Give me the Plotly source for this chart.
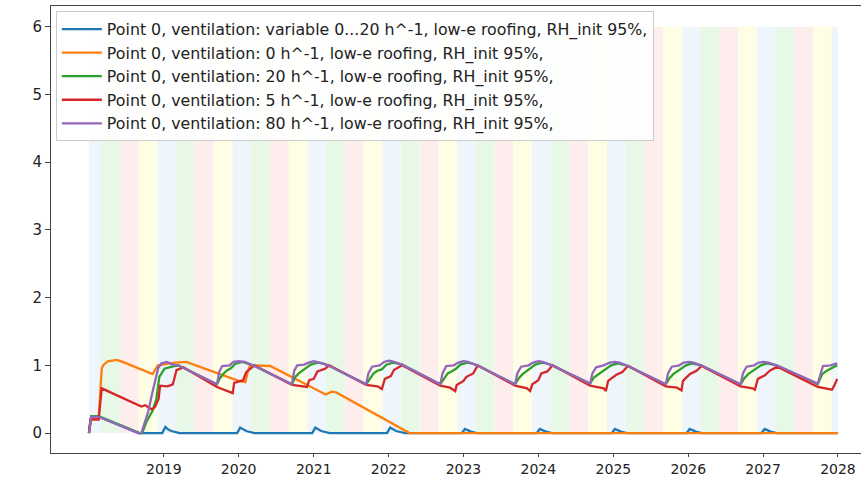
import datetime as dt
import plotly.graph_objects as go

# ---------------- data (decimal year, value) ----------------
names = [
    "Point 0, ventilation: variable 0...20 h^-1, low-e roofing, RH_init 95%,",
    "Point 0, ventilation: 0 h^-1, low-e roofing, RH_init 95%,",
    "Point 0, ventilation: 20 h^-1, low-e roofing, RH_init 95%,",
    "Point 0, ventilation: 5 h^-1, low-e roofing, RH_init 95%,",
    "Point 0, ventilation: 80 h^-1, low-e roofing, RH_init 95%,",
]
colors = ["#1f77b4", "#ff7f0e", "#2ca02c", "#d62728", "#9467bd"]

var_t = [2018.00, 2018.03, 2018.13, 2018.66, 2018.98, 2019.02, 2019.06, 2019.10, 2019.21,
         2019.98, 2020.02, 2020.06, 2020.10, 2020.21, 2020.98, 2021.02, 2021.06, 2021.10, 2021.21,
         2021.98, 2022.02, 2022.06, 2022.10, 2022.22, 2022.98, 2023.02, 2023.06, 2023.10, 2023.18,
         2023.98, 2024.02, 2024.06, 2024.10, 2024.18, 2024.98, 2025.02, 2025.06, 2025.10, 2025.18,
         2025.98, 2026.02, 2026.06, 2026.10, 2026.18, 2026.98, 2027.02, 2027.06, 2027.10, 2027.18,
         2028.00]
var_v = [0.00, 0.24, 0.24, 0.00, 0.00, 0.09, 0.05, 0.03, 0.00,
         0.00, 0.08, 0.05, 0.03, 0.00, 0.00, 0.08, 0.05, 0.03, 0.00,
         0.00, 0.08, 0.05, 0.03, 0.00, 0.00, 0.06, 0.04, 0.02, 0.00,
         0.00, 0.06, 0.04, 0.02, 0.00, 0.00, 0.06, 0.04, 0.02, 0.00,
         0.00, 0.06, 0.04, 0.02, 0.00, 0.00, 0.06, 0.04, 0.02, 0.00,
         0.00]

v0_t = [2018.00, 2018.03, 2018.13, 2018.17, 2018.19, 2018.25, 2018.37, 2018.45, 2018.85,
        2018.92, 2019.15, 2019.30, 2020.00, 2020.09, 2020.12, 2020.15, 2020.42, 2021.10,
        2021.16, 2021.24, 2021.30, 2022.28, 2028.00]
v0_v = [0.00, 0.22, 0.22, 0.95, 1.00, 1.06, 1.08, 1.05, 0.87,
        1.00, 1.04, 1.05, 0.77, 0.75, 0.90, 1.00, 0.99, 0.60,
        0.57, 0.61, 0.60, 0.00, 0.00]

v20_t = [2018.00, 2018.03, 2018.13, 2018.68, 2018.71, 2018.77, 2018.85, 2018.90, 2018.94, 2019.01, 2019.11, 2019.19,
         2019.71, 2019.75, 2019.80, 2019.84, 2019.90, 2019.95, 2020.05, 2020.12, 2020.19,
         2020.71, 2020.75, 2020.80, 2020.85, 2020.91, 2020.96, 2021.05, 2021.12, 2021.19,
         2021.70, 2021.75, 2021.80, 2021.85, 2021.91, 2021.97, 2022.06, 2022.11, 2022.18,
         2022.69, 2022.74, 2022.79, 2022.84, 2022.90, 2022.96, 2023.05, 2023.11, 2023.18,
         2023.69, 2023.74, 2023.79, 2023.84, 2023.90, 2023.96, 2024.05, 2024.11, 2024.18,
         2024.69, 2024.74, 2024.80, 2024.85, 2024.91, 2024.97, 2025.06, 2025.11, 2025.17,
         2025.70, 2025.75, 2025.80, 2025.85, 2025.91, 2025.97, 2026.05, 2026.11, 2026.17,
         2026.70, 2026.75, 2026.80, 2026.85, 2026.91, 2026.97, 2027.05, 2027.11, 2027.18,
         2027.73, 2027.79, 2027.85, 2027.92, 2027.99]
v20_v = [0.00, 0.25, 0.25, 0.00, 0.00, 0.17, 0.33, 0.50, 0.83, 0.95, 0.98, 1.00,
         0.72, 0.81, 0.88, 0.92, 0.96, 1.02, 1.05, 1.03, 1.00,
         0.72, 0.82, 0.88, 0.92, 0.96, 1.01, 1.04, 1.03, 1.00,
         0.72, 0.80, 0.88, 0.92, 0.94, 1.01, 1.04, 1.03, 1.01,
         0.72, 0.81, 0.88, 0.91, 0.95, 1.01, 1.04, 1.03, 1.00,
         0.72, 0.81, 0.87, 0.91, 0.95, 1.01, 1.04, 1.03, 1.00,
         0.73, 0.82, 0.87, 0.91, 0.95, 1.00, 1.03, 1.02, 1.00,
         0.72, 0.81, 0.87, 0.91, 0.95, 1.00, 1.03, 1.02, 1.00,
         0.72, 0.81, 0.87, 0.91, 0.95, 1.00, 1.03, 1.02, 1.00,
         0.72, 0.87, 0.92, 0.96, 1.00]

v5_t = [2018.00, 2018.02, 2018.13, 2018.15, 2018.17, 2018.70, 2018.75, 2018.84, 2018.88, 2018.93, 2018.95,
        2019.05, 2019.12, 2019.17, 2019.26,
        2019.71, 2019.86, 2019.92, 2019.94, 2020.06, 2020.10, 2020.17, 2020.21,
        2020.71, 2020.91, 2020.94, 2021.00, 2021.05, 2021.15, 2021.21,
        2021.70, 2021.85, 2021.91, 2021.95, 2022.03, 2022.07, 2022.18,
        2022.69, 2022.82, 2022.89, 2022.91, 2023.00, 2023.04, 2023.13, 2023.19,
        2023.69, 2023.85, 2023.89, 2023.92, 2024.00, 2024.04, 2024.12, 2024.19,
        2024.69, 2024.87, 2024.90, 2024.93, 2025.04, 2025.12, 2025.16, 2025.20,
        2025.70, 2025.85, 2025.91, 2025.93, 2026.02, 2026.11, 2026.18,
        2026.70, 2026.86, 2026.89, 2026.93, 2027.02, 2027.09, 2027.19,
        2027.73, 2027.92, 2027.95, 2027.99]
v5_v = [0.00, 0.20, 0.20, 0.40, 0.66, 0.39, 0.41, 0.35, 0.38, 0.50, 0.70,
        0.69, 0.72, 0.93, 0.97,
        0.68, 0.61, 0.59, 0.74, 0.78, 0.90, 0.96, 1.00,
        0.71, 0.68, 0.78, 0.80, 0.91, 0.95, 1.00,
        0.71, 0.69, 0.65, 0.80, 0.84, 0.93, 1.00,
        0.70, 0.67, 0.62, 0.71, 0.77, 0.83, 0.88, 1.00,
        0.70, 0.66, 0.62, 0.72, 0.78, 0.88, 0.91, 1.00,
        0.70, 0.66, 0.62, 0.77, 0.86, 0.90, 0.95, 0.99,
        0.69, 0.67, 0.63, 0.77, 0.87, 0.92, 0.99,
        0.69, 0.66, 0.64, 0.80, 0.85, 0.92, 0.98,
        0.68, 0.64, 0.70, 0.80]

v80_t = [2018.00, 2018.03, 2018.13, 2018.66, 2018.70, 2018.79, 2018.84, 2018.88, 2018.925, 2018.97, 2019.04, 2019.12, 2019.19,
         2019.71, 2019.74, 2019.78, 2019.88, 2019.93, 2020.00, 2020.08, 2020.19,
         2020.71, 2020.74, 2020.78, 2020.87, 2020.93, 2021.00, 2021.08, 2021.19,
         2021.70, 2021.73, 2021.78, 2021.88, 2021.94, 2022.00, 2022.05, 2022.18,
         2022.69, 2022.72, 2022.77, 2022.87, 2022.93, 2023.00, 2023.06, 2023.18,
         2023.69, 2023.72, 2023.77, 2023.87, 2023.93, 2024.00, 2024.06, 2024.18,
         2024.69, 2024.72, 2024.77, 2024.87, 2024.95, 2025.02, 2025.08, 2025.17,
         2025.70, 2025.73, 2025.78, 2025.88, 2025.94, 2026.01, 2026.07, 2026.17,
         2026.70, 2026.73, 2026.78, 2026.88, 2026.94, 2027.01, 2027.07, 2027.18,
         2027.73, 2027.76, 2027.80, 2027.90, 2027.99]
v80_v = [0.00, 0.24, 0.24, 0.00, 0.00, 0.31, 0.56, 0.75, 0.96, 1.03, 1.05, 1.01, 1.00,
         0.72, 0.90, 0.99, 1.00, 1.05, 1.06, 1.05, 1.00,
         0.72, 0.92, 1.00, 1.01, 1.04, 1.06, 1.04, 1.00,
         0.72, 0.88, 0.98, 1.00, 1.05, 1.07, 1.06, 1.01,
         0.72, 0.88, 0.99, 1.00, 1.04, 1.06, 1.05, 1.00,
         0.72, 0.88, 0.98, 1.00, 1.04, 1.06, 1.05, 1.00,
         0.73, 0.88, 0.97, 1.00, 1.04, 1.05, 1.04, 1.00,
         0.72, 0.88, 0.98, 1.00, 1.04, 1.05, 1.04, 1.00,
         0.72, 0.88, 0.98, 1.00, 1.04, 1.05, 1.04, 1.00,
         0.73, 0.86, 0.99, 1.00, 1.03]

series_t = [var_t, v0_t, v20_t, v5_t, v80_t]
series_v = [var_v, v0_v, v20_v, v5_v, v80_v]

# seasonal background colours: winter, spring, summer, autumn
season_colors = ["#eef6fc", "#e7f8e7", "#fdeded", "#fefee5"]
band_top = 6
years = list(range(2018, 2028))

tick_years = [2019, 2020, 2021, 2022, 2023, 2024, 2025, 2026, 2027, 2028]
y_ticks = [0, 1, 2, 3, 4, 5, 6]


def dec2date(y):
    yi = int(y)
    start = dt.datetime(yi, 1, 1)
    end = dt.datetime(yi + 1, 1, 1)
    return start + (end - start) * (y - yi)


fig = go.Figure()

# bands
bands = []
for yr in years:
    bands.append((dt.datetime(yr, 1, 1), dt.datetime(yr, 3, 1), season_colors[0]))
    bands.append((dt.datetime(yr, 3, 1), dt.datetime(yr, 6, 1), season_colors[1]))
    bands.append((dt.datetime(yr, 6, 1), dt.datetime(yr, 9, 1), season_colors[2]))
    bands.append((dt.datetime(yr, 9, 1), dt.datetime(yr, 12, 1), season_colors[3]))
    bands.append((dt.datetime(yr, 12, 1), dt.datetime(yr + 1, 1, 1), season_colors[0]))
for x0, x1, c in bands:
    fig.add_shape(type="rect", xref="x", yref="y", x0=x0, x1=x1, y0=0, y1=band_top,
                  fillcolor=c, line=dict(width=0), layer="below")

for i, (name, col, ts, vs) in enumerate(zip(names, colors, series_t, series_v)):
    fig.add_trace(go.Scatter(
        x=[dec2date(t) for t in ts], y=vs, mode="lines", name=name,
        line=dict(color=col, width=2.3),
    ))

fig.update_layout(
    width=861, height=479,
    margin=dict(l=51, r=0, t=6, b=26),
    plot_bgcolor="white", paper_bgcolor="white",
    font=dict(family="DejaVu Sans", size=15, color="#222222"),
    showlegend=True,
    legend=dict(x=0.006, y=0.988, xanchor="left", yanchor="top",
                bgcolor="rgba(255,255,255,0.85)", bordercolor="#cccccc", borderwidth=1,
                font=dict(size=15.8, color="#222222"),
                traceorder="normal", itemwidth=40),
)
fig.update_xaxes(
    type="date", automargin=False,
    range=[dec2date(2017.493), dec2date(2028.307)],
    tickvals=[dt.datetime(y, 1, 1) for y in tick_years],
    ticktext=[str(y) for y in tick_years],
    tickfont=dict(size=14),
    showgrid=False, zeroline=False,
    showline=True, linecolor="#444444", linewidth=1, mirror=True,
    ticks="outside", ticklen=3, tickcolor="#444444",
)
fig.update_yaxes(
    automargin=False,
    range=[-0.295, 6.307],
    tickvals=y_ticks,
    showgrid=False, zeroline=False,
    showline=True, linecolor="#444444", linewidth=1,
    ticks="outside", ticklen=5, tickcolor="#444444",
)

fig.write_html("out.html")
